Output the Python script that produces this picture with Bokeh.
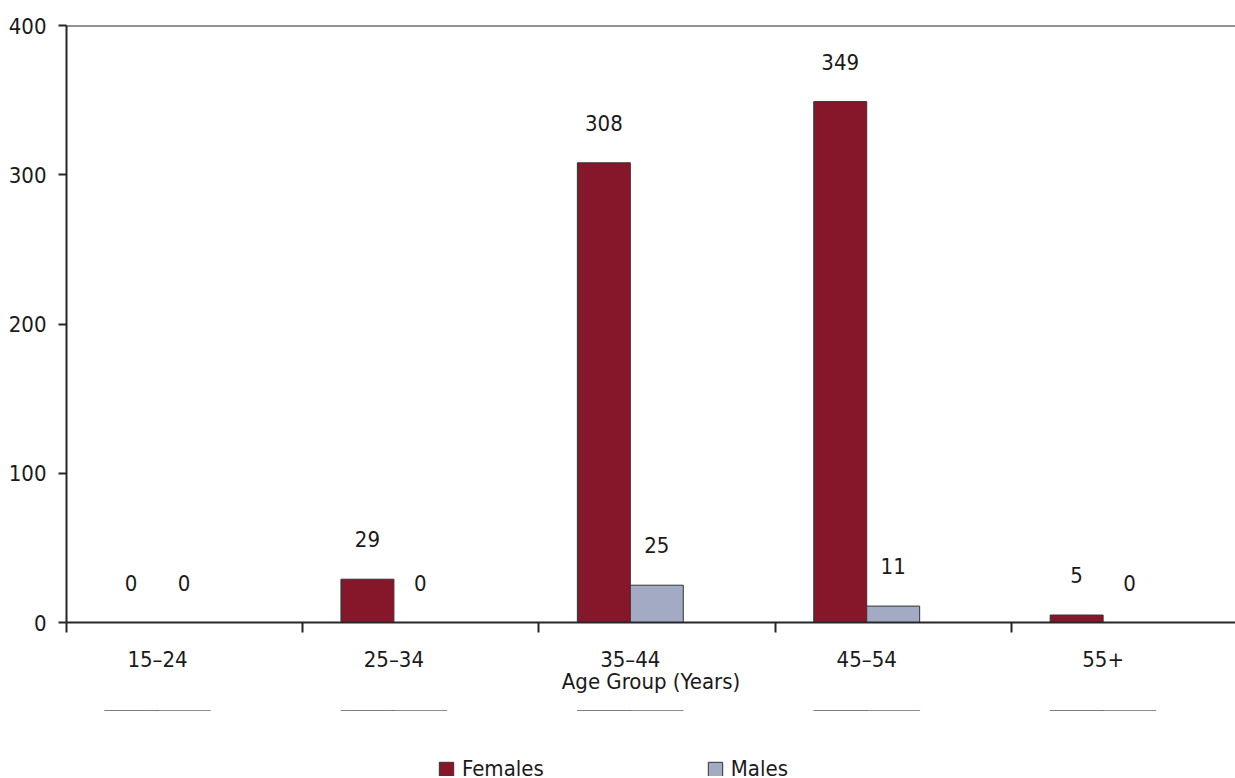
from bokeh.plotting import figure
from bokeh.layouts import column
from bokeh.models import Range1d, FixedTicker, Span, Legend, LegendItem, ColumnDataSource
from bokeh.core.properties import value
from bokeh.embed import file_html
from bokeh.resources import INLINE

# Age groups and case counts by sex
age_groups = ["15–24", "25–34", "35–44", "45–54", "55+"]
females = [0, 29, 308, 349, 5]
males = [0, 0, 25, 11, 0]
y_ticks = [0, 100, 200, 300, 400]
series = ["Females", "Males"]

FONT = "'DejaVu Sans Condensed', sans-serif"
FS = "22px"
INK = "#1a1a1a"
AXIS = "#262626"
F_COL = "#86162a"
M_COL = "#a3abc4"
EDGE = "#333333"

idx = list(range(len(age_groups)))
half = 0.112
fx = [i - half for i in idx]
mx = [i + half for i in idx]
src_f = ColumnDataSource(dict(x=fx, top=females))
src_m = ColumnDataSource(dict(x=mx, top=males))

p = figure(frame_width=1169, frame_height=597, output_backend="svg", toolbar_location=None,
           x_range=Range1d(-0.385, 4.56), y_range=Range1d(0, 400),
           min_border_left=66, min_border_right=0, min_border_top=25,
           min_border_bottom=88, outline_line_color=None)
p.xgrid.visible = False
p.ygrid.visible = False

p.vbar(x="x", top="top", source=src_f, width=0.224, fill_color=F_COL, line_color=EDGE, line_width=1)
p.vbar(x="x", top="top", source=src_m, width=0.224, fill_color=M_COL, line_color=EDGE, line_width=1)

# value labels above each bar
p.text(x=fx + mx, y=females + males, text=[str(v) for v in females + males],
       text_align="center", text_baseline="middle", y_offset=-40,
       text_font=value(FONT), text_font_size=FS, text_color=INK)

# top border of the plotting area
p.add_layout(Span(location=400, dimension="width", line_color=AXIS, line_width=2))

xa = p.xaxis[0]
xa.ticker = FixedTicker(ticks=idx, minor_ticks=[-0.385] + [i + 0.613 for i in idx[:-1]])
xa.major_label_overrides = {i: g for i, g in zip(idx, age_groups)}
xa.major_tick_line_color = None
xa.major_tick_out = 0
xa.major_tick_in = 0
xa.minor_tick_out = 10
xa.minor_tick_in = 0
xa.minor_tick_line_color = AXIS
xa.minor_tick_line_width = 2
xa.axis_line_color = AXIS
xa.axis_line_width = 2
xa.major_label_standoff = 14
xa.major_label_text_font = FONT
xa.major_label_text_font_size = FS
xa.major_label_text_color = INK
xa.axis_label = "Age Group (Years)"
xa.axis_label_standoff = -6
xa.axis_label_text_font = FONT
xa.axis_label_text_font_size = FS
xa.axis_label_text_font_style = "normal"
xa.axis_label_text_color = INK

ya = p.yaxis[0]
ya.ticker = FixedTicker(ticks=y_ticks)
ya.major_tick_out = 8
ya.major_tick_in = 0
ya.minor_tick_line_color = None
ya.major_tick_line_color = AXIS
ya.major_tick_line_width = 2
ya.axis_line_color = AXIS
ya.axis_line_width = 2
ya.major_label_standoff = 12
ya.major_label_text_font = FONT
ya.major_label_text_font_size = FS
ya.major_label_text_color = INK

# legend strip underneath the chart; its bars share the data but sit far outside its view
leg = figure(width=1235, height=66, output_backend="svg", toolbar_location=None,
             x_range=Range1d(-0.385, 4.56), y_range=Range1d(-100000, -99999),
             x_axis_type=None, y_axis_type=None, min_border=0,
             outline_line_color=None)
leg.xgrid.visible = False
leg.ygrid.visible = False
r_f = leg.vbar(x="x", top="top", source=src_f, width=0.224, fill_color=F_COL,
               line_color=EDGE, line_width=1)
r_m = leg.vbar(x="x", top="top", source=src_m, width=0.224, fill_color=M_COL,
               line_color=EDGE, line_width=1)

lg = Legend(items=[LegendItem(label=series[0], renderers=[r_f]),
                   LegendItem(label=series[1], renderers=[r_m])],
            location=(371, -5), orientation="horizontal",
            glyph_width=18, glyph_height=18, label_height=18, label_standoff=7,
            spacing=162, padding=0, margin=0, border_line_color=None,
            background_fill_alpha=0, label_text_font=FONT,
            label_text_font_size=FS, label_text_color=INK)
leg.add_layout(lg)

open("out.html", "w").write(file_html(column(p, leg, spacing=0), INLINE))
